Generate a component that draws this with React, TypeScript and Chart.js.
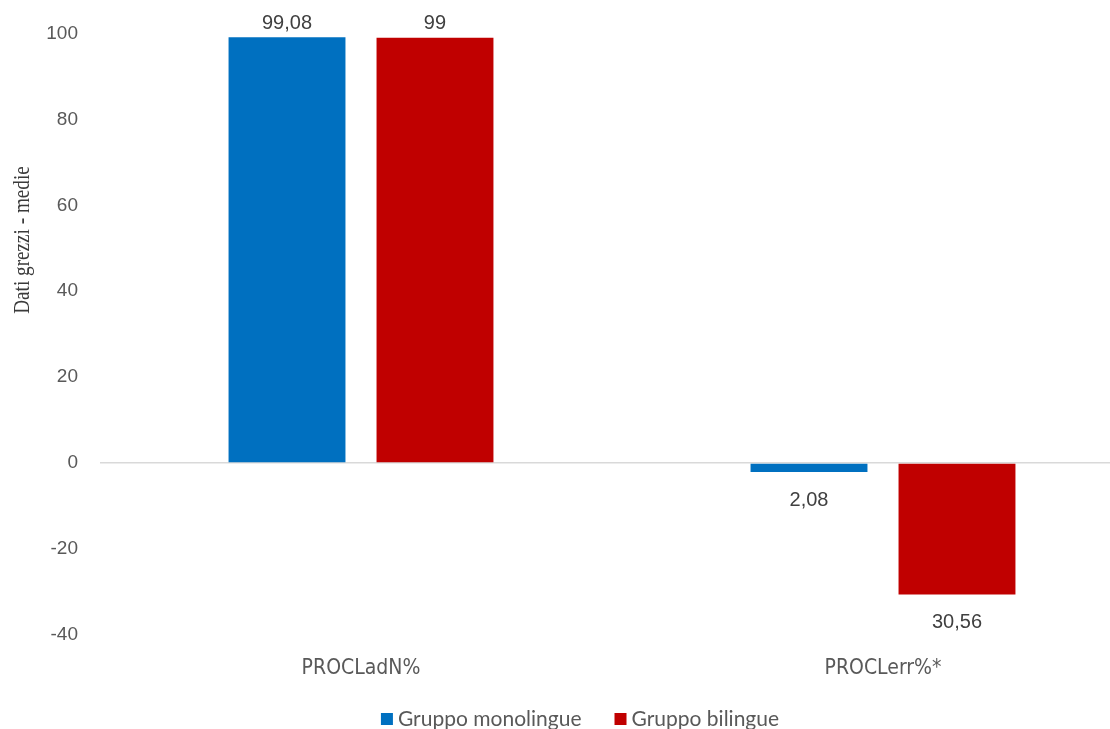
import React, { useEffect, useRef } from "react";
import { Chart, registerables } from "chart.js";

Chart.register(...registerables);

const categories = ["PROCLadN%", "PROCLerr%*"];
const seriesNames = ["Gruppo monolingue", "Gruppo bilingue"];
const monolingue = [99.08, -2.08];
const bilingue = [99, -30.56];
const seriesColors = ["#0070C0", "#C00000"];
const yTitle = "Dati grezzi - medie";
const yMin = -40;
const yMax = 100;
const yStep = 20;

const CANVAS_W = 1160;
const CANVAS_H = 729;

const fmt = (v: number) =>
  Math.abs(v).toLocaleString("it-IT", { maximumFractionDigits: 2 });

// Value labels above positive bars and below negative bars
const valueLabels = {
  id: "valueLabels",
  afterDatasetsDraw(chart: any) {
    const { ctx } = chart;
    ctx.save();
    ctx.font = "20px 'Liberation Sans', Arial, sans-serif";
    ctx.fillStyle = "#404040";
    ctx.textAlign = "center";
    chart.data.datasets.forEach((ds: any, di: number) => {
      const meta = chart.getDatasetMeta(di);
      meta.data.forEach((el: any, i: number) => {
        const v = ds.data[i] as number;
        if (v >= 0) {
          ctx.textBaseline = "bottom";
          ctx.fillText(fmt(v), el.x, el.y - 4);
        } else {
          ctx.textBaseline = "top";
          ctx.fillText(fmt(v), el.x, el.y + 18);
        }
      });
    });
    ctx.restore();
  },
};

// Rotated, slightly condensed serif axis title on the left
const axisTitle = {
  id: "axisTitle",
  afterDraw(chart: any) {
    const { ctx } = chart;
    ctx.save();
    ctx.translate(23, 240);
    ctx.rotate(-Math.PI / 2);
    ctx.scale(0.8, 1);
    ctx.font = "24px 'Liberation Serif', 'Times New Roman', serif";
    ctx.fillStyle = "#3a3a3a";
    ctx.textAlign = "center";
    ctx.textBaseline = "middle";
    ctx.fillText(yTitle, 0, 0);
    ctx.restore();
  },
};

// Legend row at the bottom, centred on the canvas
const bottomLegend = {
  id: "bottomLegend",
  afterDraw(chart: any) {
    const { ctx } = chart;
    const box = 12;
    const gap = 5;
    const spacing = 33;
    const y = 719;
    ctx.save();
    ctx.font = "21px Lato, 'Noto Sans', sans-serif";
    const widths = seriesNames.map((n) => ctx.measureText(n).width);
    const total =
      widths.reduce((a, w) => a + box + gap + w, 0) +
      spacing * (seriesNames.length - 1);
    let x = chart.width / 2 - total / 2;
    seriesNames.forEach((name, i) => {
      ctx.fillStyle = seriesColors[i];
      ctx.fillRect(x, y - box / 2, box, box);
      ctx.fillStyle = "#595959";
      ctx.textAlign = "left";
      ctx.textBaseline = "middle";
      ctx.fillText(name, x + box + gap, y);
      x += box + gap + widths[i] + spacing;
    });
    ctx.restore();
  },
};

export default function App() {
  const ref = useRef<HTMLCanvasElement>(null);

  useEffect(() => {
    if (!ref.current) return;
    const chart = new Chart(ref.current, {
      type: "bar",
      data: {
        labels: categories,
        datasets: [
          {
            label: seriesNames[0],
            data: monolingue,
            backgroundColor: seriesColors[0],
            categoryPercentage: 0.567,
            barPercentage: 0.79,
          },
          {
            label: seriesNames[1],
            data: bilingue,
            backgroundColor: seriesColors[1],
            categoryPercentage: 0.567,
            barPercentage: 0.79,
          },
        ],
      },
      options: {
        responsive: false,
        animation: false,
        layout: { padding: { top: 30, right: 16, bottom: 0, left: 0 } },
        plugins: {
          legend: { display: false },
          tooltip: { enabled: false },
        },
        scales: {
          x: {
            grid: { display: false },
            border: { display: false },
            ticks: {
              color: "#595959",
              padding: 13,
              font: {
                family: "'Liberation Sans Narrow', 'DejaVu Sans Condensed', sans-serif",
                size: 21,
              },
            },
            afterFit(scale: any) {
              scale.height = 94;
            },
          },
          y: {
            min: yMin,
            max: yMax,
            border: { display: false },
            grid: {
              drawTicks: false,
              lineWidth: 1.5,
              color: (c: any) => (c.tick && c.tick.value === 0 ? "#d9d9d9" : "rgba(0,0,0,0)"),
            },
            ticks: {
              stepSize: yStep,
              color: "#595959",
              padding: 22,
              font: { family: "'Liberation Sans', Arial, sans-serif", size: 19 },
            },
            afterFit(scale: any) {
              scale.width = 100;
            },
          },
        },
      },
      plugins: [valueLabels, axisTitle, bottomLegend],
    });
    return () => chart.destroy();
  }, []);

  return (
    <div
      style={{
        position: "absolute",
        left: 0,
        top: 0,
        width: 1110,
        height: 729,
        overflow: "hidden",
        background: "#fff",
      }}
    >
      <canvas ref={ref} width={CANVAS_W} height={CANVAS_H} style={{ display: "block" }} />
    </div>
  );
}
